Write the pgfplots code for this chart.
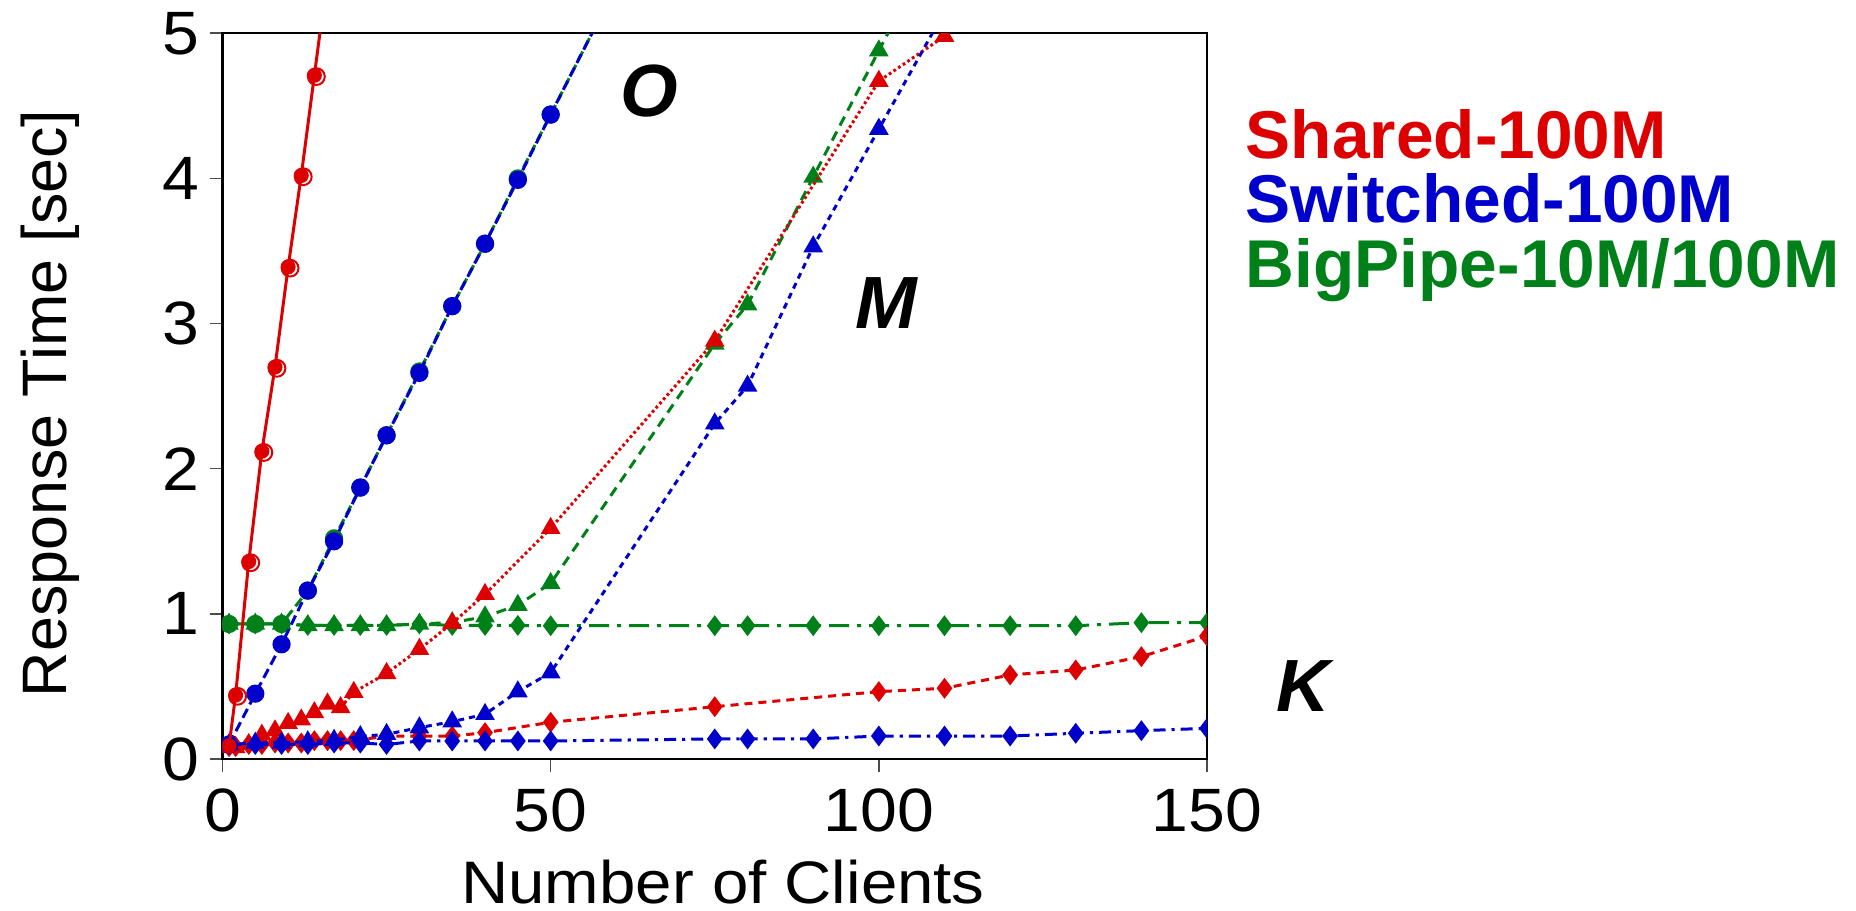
\documentclass[border=0pt]{standalone}
\usepackage{fontspec}
\setmainfont{Liberation Sans}
\setsansfont{Liberation Sans}
\usepackage{graphicx}
\usepackage{pgfplots}
\pgfplotsset{compat=1.18}
\definecolor{cred}{RGB}{221,0,0}
\definecolor{cblue}{RGB}{0,0,205}
\definecolor{cgreen}{RGB}{0,128,24}
\newcommand{\lblfont}{\fontsize{15.7}{18}\selectfont}
\newcommand{\tckfont}{\fontsize{15.3}{18}\selectfont}
\newcommand{\lgdfont}{\fontsize{16.9}{20}\selectfont\bfseries}
\newcommand{\regionfont}{\fontsize{18.5}{22}\selectfont\bfseries\itshape}
\begin{document}
\begin{tikzpicture}
\begin{axis}[
  scale only axis, width=246.1pt, height=181.4pt,
  xmin=0, xmax=150, ymin=0, ymax=5,
  xtick={0,50,100,150}, ytick={0,1,2,3,4,5},
  tick align=outside, xtick pos=left, ytick pos=left,
  major tick length=3.2pt,
  tick style={black!70, line width=0.4pt},
  axis line style={black, line width=0.6pt},
  /pgf/number format/assume math mode=true,
  ticklabel style={font=\tckfont},
  xticklabel={\scalebox{1.08}[1]{\pgfmathprintnumber{\tick}}},
  yticklabel={\scalebox{1.08}[1]{\pgfmathprintnumber{\tick}}},
  yticklabel style={inner sep=0pt, anchor=east, xshift=-2.4pt},
  xticklabel style={inner sep=0pt, anchor=north, yshift=-4pt},
  xlabel={\scalebox{1.09}[1]{\fontsize{15}{18}\selectfont Number of Clients}},
  ylabel={Response Time [sec]},
  ylabel style={font=\lblfont},
  xlabel style={at={(axis description cs:0.5084,-0.199)}, anchor=base, inner sep=0pt},
  ylabel style={at={(axis description cs:-0.175,0.49)}, anchor=center, inner sep=0pt},
  clip mode=individual, clip marker paths=true,
  every axis plot/.append style={line width=0.75pt},
]
% BigPipe K
\addplot[cgreen, dash pattern=on 5pt off 2pt on 1pt off 2pt, mark=diamond*, mark size=2pt, mark options={solid}] coordinates {
(1,0.93)(5,0.93)(9,0.93)(13,0.92)(17,0.92)(21,0.92)(25,0.92)(30,0.93)(35,0.92)(40,0.92)(45,0.92)(50,0.918)(75,0.918)(80,0.918)(90,0.918)(100,0.918)(110,0.918)(120,0.918)(130,0.918)(140,0.939)(150,0.939)};
% BigPipe M
\addplot[cgreen, dash pattern=on 2.5pt off 1.7pt, mark=triangle*, mark size=2.1pt, mark options={solid}] coordinates {
(1,0.93)(5,0.93)(9,0.93)(13,0.92)(17,0.92)(21,0.92)(25,0.92)(30,0.93)(35,0.94)(40,0.98)(45,1.06)(50,1.21)(75,2.86)(80,3.13)(90,4.01)(100,4.88)(110,5.75)};
% BigPipe O
\addplot[cgreen, dash pattern=on 2.5pt off 1.25pt, mark=*, mark size=1.9pt, mark options={solid}] coordinates {
(1,0.93)(5,0.93)(9,0.93)(13,1.16)(17,1.52)(21,1.87)(25,2.23)(30,2.67)(35,3.12)(40,3.55)(45,4.00)(50,4.44)(60,5.33)};
% Shared K
\addplot[cred, dash pattern=on 2pt off 1.5pt, mark=diamond*, mark size=2pt, mark options={solid}] coordinates {
(1,0.085)(2,0.085)(4,0.10)(6,0.10)(8,0.11)(10,0.11)(12,0.11)(14,0.126)(16,0.126)(18,0.126)(20,0.126)(25,0.158)(30,0.158)(35,0.158)(40,0.181)(50,0.253)(75,0.36)(100,0.464)(110,0.487)(120,0.579)(130,0.613)(140,0.705)(150,0.847)};
% Shared M
\addplot[cred, dash pattern=on 0.7pt off 0.7pt, mark=triangle*, mark size=2.1pt, mark options={solid}] coordinates {
(1,0.08)(2,0.08)(4,0.10)(6,0.165)(8,0.195)(10,0.246)(12,0.27)(14,0.32)(16,0.38)(18,0.355)(20,0.46)(25,0.59)(30,0.756)(35,0.935)(40,1.135)(50,1.59)(75,2.88)(100,4.67)(110,4.98)};
% Switched K
\addplot[cblue, dash pattern=on 3pt off 1.5pt on 0.8pt off 1.5pt, mark=diamond*, mark size=2pt, mark options={solid}] coordinates {
(1,0.10)(5,0.10)(9,0.10)(13,0.10)(17,0.11)(21,0.11)(25,0.10)(30,0.124)(35,0.124)(40,0.124)(45,0.124)(50,0.124)(75,0.138)(80,0.138)(90,0.138)(100,0.158)(110,0.158)(120,0.158)(130,0.177)(140,0.195)(150,0.211)};
% Switched M
\addplot[cblue, dash pattern=on 1.5pt off 1.25pt, mark=triangle*, mark size=2.1pt, mark options={solid}] coordinates {
(1,0.10)(5,0.11)(9,0.11)(13,0.12)(17,0.13)(21,0.155)(25,0.17)(30,0.216)(35,0.257)(40,0.308)(45,0.464)(50,0.595)(75,2.31)(80,2.57)(90,3.53)(100,4.34)(110,5.15)};
% Switched O
\addplot[cblue, dash pattern=on 2.5pt off 1.25pt, mark=*, mark size=1.9pt, mark options={solid}] coordinates {
(1,0.10)(5,0.45)(9,0.79)(13,1.16)(17,1.50)(21,1.87)(25,2.23)(30,2.66)(35,3.12)(40,3.55)(45,3.99)(50,4.44)(60,5.33)};
% Shared O
\addplot[cred, solid, mark=*, mark size=1.5pt] coordinates {
(1,0.09)(2,0.44)(4,1.36)(6,2.12)(8,2.70)(10,3.39)(12,4.02)(14,4.71)(16,5.40)};
\addplot[cred, only marks, mark=o, mark size=2.1pt, mark options={line width=0.5pt, xshift=0.5pt, yshift=-0.3pt}] coordinates {
(2,0.44)(4,1.36)(6,2.12)(8,2.70)(10,3.39)(12,4.02)(14,4.71)};

\node[font=\regionfont, anchor=center] at (axis cs:65.1,4.60) {O};
\node[font=\regionfont, anchor=center] at (axis cs:101.1,3.14) {M};
\node[font=\regionfont, anchor=center] at (axis cs:164.6,0.50) {K};
\node[font=\lgdfont, text=cred, anchor=base west, inner sep=0pt] at (rel axis cs:1.0386,0.828) {Shared-100M};
\node[font=\lgdfont, text=cblue, anchor=base west, inner sep=0pt] at (rel axis cs:1.0386,0.7386) {Switched-100M};
\node[font=\lgdfont, text=cgreen, anchor=base west, inner sep=0pt] at (rel axis cs:1.0386,0.649) {BigPipe-10M/100M};
\coordinate (bbA) at (rel axis cs:-0.226,-0.2095);
\coordinate (bbB) at (rel axis cs:1.6592,1.0459);
\end{axis}
\path (bbA) rectangle (bbB);
\end{tikzpicture}
\end{document}
